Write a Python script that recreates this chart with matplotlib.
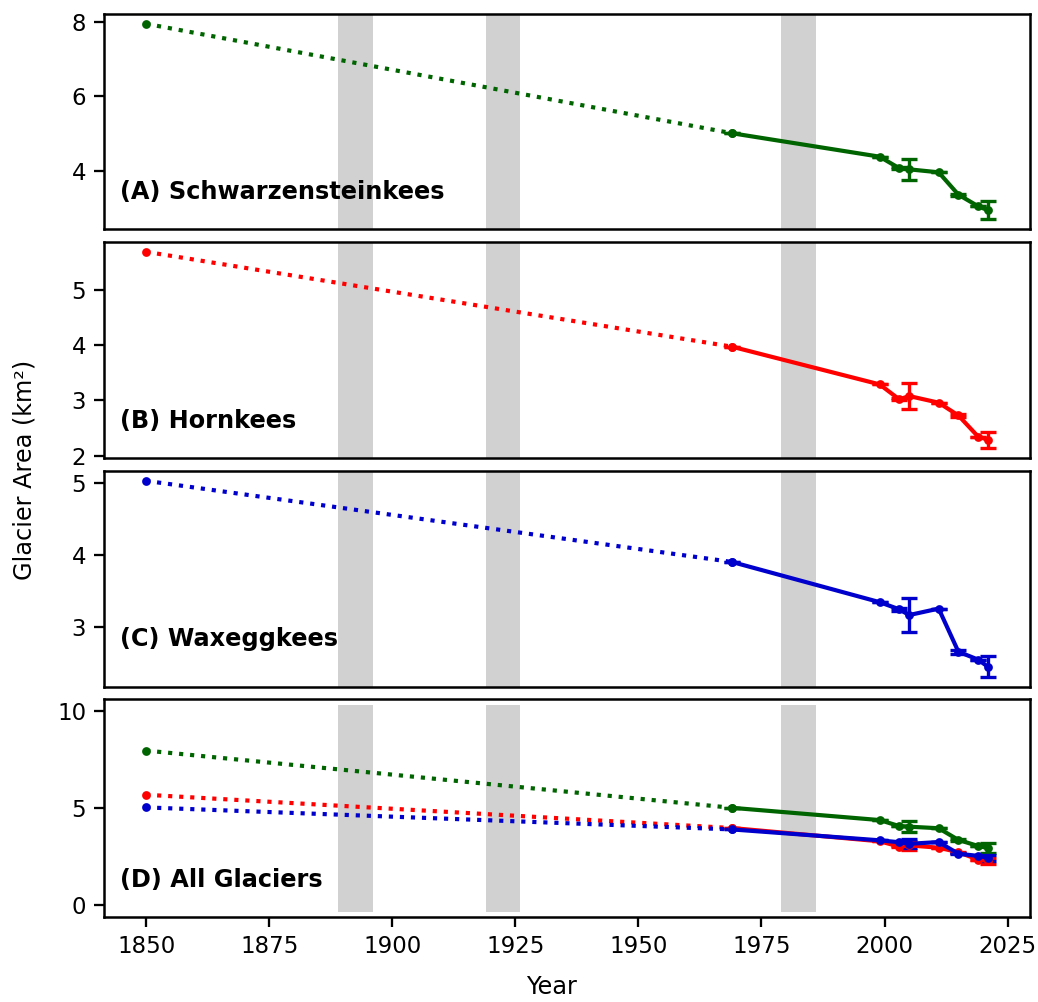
import numpy as np
import matplotlib
matplotlib.use("Agg")
import matplotlib.pyplot as plt

years = [1850, 1969, 1999, 2003, 2005, 2011, 2015, 2019, 2021]

schwarz = [7.95, 5.01, 4.38, 4.07, 4.04, 3.96, 3.36, 3.05, 2.94]
schwarz_err = [0, 0, 0, 0.02, 0.28, 0, 0.03, 0, 0.24]
horn = [5.68, 3.97, 3.29, 3.02, 3.08, 2.96, 2.73, 2.35, 2.29]
horn_err = [0, 0, 0, 0.02, 0.24, 0, 0.03, 0, 0.15]
wax = [5.03, 3.90, 3.34, 3.24, 3.16, 3.25, 2.65, 2.54, 2.44]
wax_err = [0, 0, 0, 0.02, 0.235, 0, 0.03, 0, 0.145]

names = ["(A) Schwarzensteinkees", "(B) Hornkees", "(C) Waxeggkees", "(D) All Glaciers"]
colors = ["darkgreen", "red", "mediumblue"]

# periods shaded grey
bands = [(1889, 1896), (1919, 1926), (1979, 1986)]

series = [(schwarz, schwarz_err), (horn, horn_err), (wax, wax_err)]

fig = plt.figure(figsize=(1038 / 150, 1002 / 150), dpi=150)
left, width = 104 / 1038, 926 / 1038
boxes = [(14, 229), (242, 458), (471, 687), (699, 917)]
axes = []
for i, (t, b) in enumerate(boxes):
    ax = fig.add_axes([left, 1 - b / 1002, width, (b - t) / 1002],
                      sharex=axes[0] if axes else None)
    axes.append(ax)


def draw(ax, vals, err, c):
    y = np.array(vals)
    e = np.array(err)
    ax.plot(years[:2], y[:2], ':', color=c, lw=2, marker='o', ms=3.2)
    ax.errorbar(years[1:], y[1:], yerr=e[1:], fmt='-o', color=c, lw=2,
                ms=3.2, capsize=3.8, capthick=1.6, elinewidth=1.6)


for i in range(3):
    ax = axes[i]
    for a, b in bands:
        ax.axvspan(a, b, color="0.82", lw=0, zorder=0)
    draw(ax, series[i][0], series[i][1], colors[i])

axd = axes[3]
for a, b in bands:
    axd.fill_between([a, b], -0.35, 10.3, color="0.82", lw=0, zorder=0)
for i in range(3):
    draw(axd, series[i][0], series[i][1], colors[i])
axd.set_ylim(-0.6, 10.6)

label_y = [0.17, 0.17, 0.22, 0.17]
for ax, n, ly in zip(axes, names, label_y):
    ax.text(0.017, ly, n, transform=ax.transAxes, fontsize=11.5,
            fontweight="bold", va="center", ha="left")
    for s in ax.spines.values():
        s.set_linewidth(1.2)
    ax.tick_params(labelsize=11, length=5, width=1.1)

for ax in axes[:3]:
    ax.tick_params(axis="x", bottom=False, labelbottom=False)

axes[0].set_yticks([4, 6, 8])
axes[1].set_yticks([2, 3, 4, 5])
axes[2].set_yticks([3, 4, 5])
axd.set_yticks([0, 5, 10])
axd.set_xticks([1850, 1875, 1900, 1925, 1950, 1975, 2000, 2025])

fig.text(0.531, 0.003, "Year", fontsize=11.5, ha="center", va="bottom")
fig.text(0.012, 0.531, "Glacier Area (km²)", fontsize=11.5, rotation=90,
         ha="left", va="center")

fig.savefig("out.png", dpi=150)
